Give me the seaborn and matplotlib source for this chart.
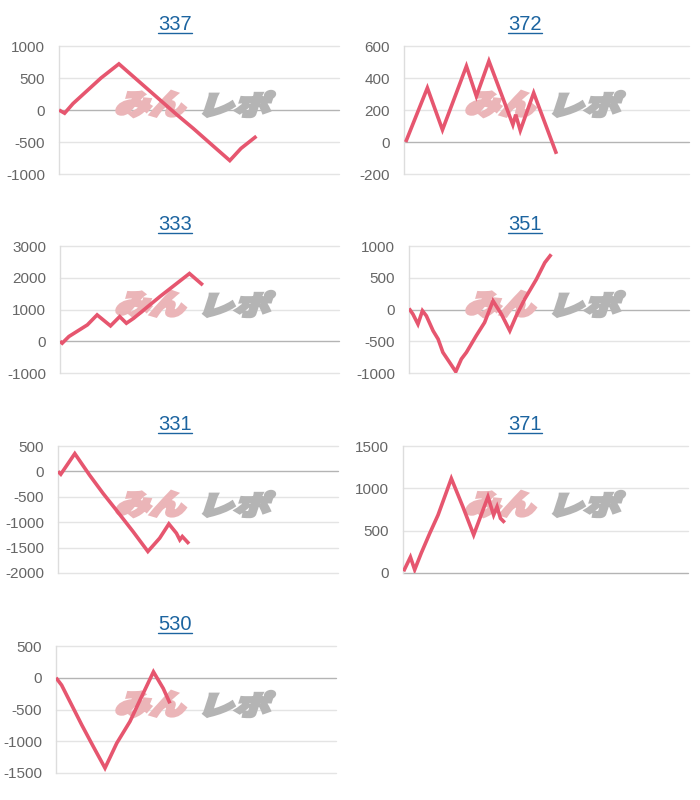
import numpy as np
import pandas as pd
import matplotlib
matplotlib.use("Agg")
import matplotlib.pyplot as plt
import seaborn as sns
from matplotlib.textpath import TextPath
from matplotlib.patches import PathPatch
from matplotlib.font_manager import FontProperties
from matplotlib.transforms import Affine2D, IdentityTransform
from matplotlib.lines import Line2D

# ---------------- data ----------------
titles = ["337", "372", "333", "351", "331", "371", "530"]

x_337 = [0, 2, 5, 10, 15, 21.4, 24, 30, 36, 42, 48, 55, 61, 65, 70.5]
y_337 = [0, -50, 100, 300, 500, 720, 620, 390, 160, -70, -290, -560, -790, -600, -410]

x_372 = [0.6, 8.2, 13.5, 21.9, 25.4, 29.8, 38.2, 39.2, 40.8, 45.5, 53.5]
y_372 = [0, 338, 76, 474, 286, 506, 108, 171, 72, 307, -74]

x_333 = [0, 0.8, 3.2, 9.8, 13.3, 18.1, 21.4, 23.8, 26.4, 36.0, 46.4, 51.2]
y_333 = [0, -60, 150, 515, 830, 484, 776, 568, 724, 1420, 2133, 1768]

x_351 = [0, 1.4, 3.2, 4.8, 6.2, 8.6, 10.4, 12.1, 14.5, 16.7, 18.7, 20.5, 24, 27, 30, 33, 36, 38.3, 41.3, 45.5, 48.5, 50.8]
y_351 = [16, -73, -230, -20, -100, -335, -466, -675, -833, -979, -780, -675, -414, -204, 136, -73, -335, -100, 162, 476, 738, 869]

x_331 = [0, 1, 6, 11.3, 16.1, 20.8, 26.8, 32.1, 36.3, 39.6, 42.3, 43.5, 44.4, 46.8]
y_331 = [0, -55, 350, -75, -433, -760, -1184, -1576, -1315, -1034, -1217, -1347, -1282, -1425]

x_371 = [0.2, 2.6, 4.1, 6.4, 9.4, 12.3, 16.96, 21, 24.8, 29.8, 31.8, 33, 34.2, 35.7]
y_371 = [20, 188, 39, 235, 470, 685, 1116, 783, 450, 900, 685, 783, 646, 595]

x_530 = [0, 2, 5, 9.2, 13.3, 17.5, 21.7, 26.4, 30, 34.8, 38.3, 40.7]
y_530 = [0, -116, -377, -743, -1082, -1422, -1030, -690, -351, 93, -168, -403]

yticks_337 = [-1000, -500, 0, 500, 1000]
yticks_372 = [-200, 0, 200, 400, 600]
yticks_333 = [-1000, 0, 1000, 2000, 3000]
yticks_351 = [-1000, -500, 0, 500, 1000]
yticks_331 = [-2000, -1500, -1000, -500, 0, 500]
yticks_371 = [0, 500, 1000, 1500]
yticks_530 = [-1500, -1000, -500, 0, 500]

series = [
    (x_337, y_337, yticks_337),
    (x_372, y_372, yticks_372),
    (x_333, y_333, yticks_333),
    (x_351, y_351, yticks_351),
    (x_331, y_331, yticks_331),
    (x_371, y_371, yticks_371),
    (x_530, y_530, yticks_530),
]

# ---------------- style ----------------
sns.set_style("white")
plt.rcParams['font.family'] = ['Liberation Sans', 'DejaVu Sans']

W, H = 700, 800
fig = plt.figure(figsize=(7, 8), dpi=100)

# axes rectangles in pixels (x0, x1, ytop, ybottom)
rects = [
    (59, 339, 46, 174), (404, 689, 46, 174),
    (60, 339, 246, 373), (409, 689, 246, 373),
    (58, 338, 446, 573), (403, 688, 446, 573),
    (56, 336, 646, 773),
]
col_centers = [175, 525]

LINE_COLOR = "#e6566f"
TITLE_COLOR = "#1c64a0"
fp_wm = FontProperties(family="Noto Sans CJK JP", weight="black")


def watermark(ax, text, x0, x1, ytop, ybot, color):
    tp = TextPath((0, 0), text, size=1, prop=fp_wm)
    v = tp.vertices
    bx0, by0 = v[:, 0].min(), v[:, 1].min()
    bw, bh = v[:, 0].max() - bx0, v[:, 1].max() - by0
    h = ybot - ytop - 3
    shear = 18
    slant = h * np.tan(np.radians(shear))
    w = (x1 - x0) - slant - 3
    tr = (Affine2D().translate(-bx0, -by0).scale(w / bw, h / bh)
          .skew_deg(shear, 0).translate(x0 + 1.5, H - ybot + 1.5))
    patch = PathPatch(tr.transform_path(tp), facecolor=color, edgecolor=color,
                      linewidth=2.4, joinstyle="miter", zorder=1.5)
    patch.set_transform(IdentityTransform())
    patch.set_clip_on(False)
    ax.add_patch(patch)


for i, ((xs, ys, yt), (x0, x1, yt0, yb0), title) in enumerate(zip(series, rects, titles)):
    ax = fig.add_axes([x0 / W, 1 - yb0 / H, (x1 - x0) / W, (yb0 - yt0) / H])
    df = pd.DataFrame({"x": xs, "y": ys})
    sns.lineplot(data=df, x="x", y="y", ax=ax, color=LINE_COLOR, lw=2.6,
                 zorder=3, solid_joinstyle="miter", solid_capstyle="butt")
    ax.set_xlim(0, 100)
    ax.set_ylim(yt[0], yt[-1])
    ax.set_yticks(yt)
    ax.set_yticklabels([str(t) for t in yt])
    ax.set_xticks([])
    ax.set_xlabel("")
    ax.set_ylabel("")
    for s in ["top", "right", "bottom"]:
        ax.spines[s].set_visible(False)
    ax.spines["left"].set_color("#dddddd")
    ax.spines["left"].set_linewidth(1.0)
    ax.tick_params(axis="y", length=0, pad=10, labelsize=11, labelcolor="#666666")
    for t in yt:
        ax.axhline(t, color="#b4b4b4" if t == 0 else "#e4e4e4", lw=1.0, zorder=1,
                   clip_on=False)
    # watermark
    col = i % 2
    cx = col * 350
    ry = (i // 2) * 200
    watermark(ax, "みん", cx + 112, cx + 192, ry + 90, ry + 118, "#ebb5b8")
    watermark(ax, "レポ", cx + 195, cx + 277, ry + 90, ry + 118, "#b4b4b4")
    # title (underlined)
    tx = col_centers[col]
    ty = ry + 24
    fig.text(tx / W, 1 - ty / H, title, ha="center", va="center",
             fontsize=14.5, color=TITLE_COLOR)
    fig.add_artist(Line2D([(tx - 17) / W, (tx + 17) / W],
                          [1 - (ry + 33) / H, 1 - (ry + 33) / H],
                          transform=fig.transFigure, color=TITLE_COLOR, lw=1.0))

fig.savefig("out.png", dpi=100, facecolor="white")
